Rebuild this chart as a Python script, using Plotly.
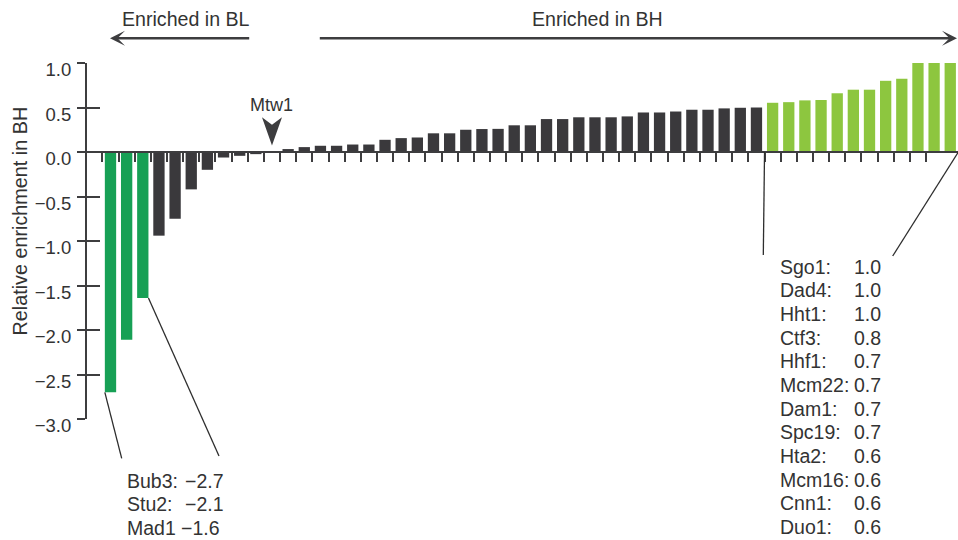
import plotly.graph_objects as go

# ---------------- data ----------------
values = [-2.70, -2.11, -1.64, -0.94, -0.75, -0.42, -0.20, -0.062, -0.043, -0.024,
          0.0, 0.033, 0.055, 0.07, 0.07, 0.084, 0.084, 0.137, 0.156, 0.163,
          0.21, 0.21, 0.25, 0.258, 0.26, 0.30, 0.30, 0.37, 0.37, 0.39,
          0.39, 0.39, 0.40, 0.444, 0.444, 0.455, 0.475, 0.475, 0.49, 0.497,
          0.50, 0.553, 0.56, 0.58, 0.584, 0.66, 0.70, 0.70, 0.80, 0.823,
          1.0, 1.0, 1.0]
n_bl = 3      # bars enriched in BL (highlighted)
n_bh = 12     # bars highlighted on the BH side
mtw1_index = 10

left_names = ["Bub3:", "Stu2:", "Mad1"]
left_scores = [-2.7, -2.1, -1.6]
right_names = ["Sgo1:", "Dad4:", "Hht1:", "Ctf3:", "Hhf1:", "Mcm22:", "Dam1:",
               "Spc19:", "Hta2:", "Mcm16:", "Cnn1:", "Duo1:"]
right_scores = [1.0, 1.0, 1.0, 0.8, 0.7, 0.7, 0.7, 0.7, 0.6, 0.6, 0.6, 0.6]
y_ticks = [-3.0, -2.5, -2.0, -1.5, -1.0, -0.5, 0.0, 0.5, 1.0]

# ---------------- styling ----------------
FONT = "Liberation Sans, Arial, Helvetica, sans-serif"
TXT = "#333333"
AX = "#3d3d3f"
C_BL = "#17a055"
C_MID = "#3a393c"
C_BH = "#8dc63f"

W, H = 958, 540
ML, MR, MT, MB = 87, 0, 63, 121
PW, PH = W - ML - MR, H - MT - MB
XR = [-1.455, 52.48]
YR = [-3.0, 1.0]

def xd(x):  # data x -> paper
    return (x - XR[0]) / (XR[1] - XR[0])

def yd(y):  # data y -> paper
    return (y - YR[0]) / (YR[1] - YR[0])

def xp(px):  # pixel -> paper
    return (px - ML) / PW

def yp(py):
    return (H - MB - py) / PH

n = len(values)
idx = list(range(n))
colors = [C_BL if i < n_bl else (C_BH if i >= n - n_bh else C_MID) for i in idx]

fig = go.Figure()
fig.add_trace(go.Bar(x=idx, y=values, marker=dict(color=colors, line=dict(width=0)),
                     width=0.70, hoverinfo="skip", showlegend=False))
# invisible trace carrying the inner-tick axis
fig.add_trace(go.Scatter(x=idx, y=values, yaxis="y2", mode="markers",
                         marker=dict(opacity=0), hoverinfo="skip", showlegend=False))

shapes = []
annotations = []

def txt(x, y, text, size, xanchor="center", xref="paper", angle=0):
    annotations.append(dict(x=x, y=y, xref=xref, yref="paper", text=text, showarrow=False,
                            xanchor=xanchor, yanchor="middle", textangle=angle,
                            font=dict(size=size, color=TXT, family=FONT)))

# Mtw1 arrowhead
hw = 0.62
shapes.append(dict(type="path", xref="x", yref="y",
                   path=f"M {mtw1_index-hw},0.39 L {mtw1_index},0.305 L {mtw1_index+hw},0.39 L {mtw1_index},0.073 Z",
                   fillcolor=AX, line=dict(width=0)))
txt(mtw1_index, yp(104.7), "Mtw1", 18, xref="x")

# leader lines (left)
line_style = dict(color="#2e2e2e", width=1.3)
shapes.append(dict(type="line", xref="paper", yref="paper",
                   x0=xd(0 - 0.35), y0=yd(values[0]), x1=xp(121.7), y1=yp(458.3), line=line_style))
shapes.append(dict(type="line", xref="paper", yref="paper",
                   x0=xd(n_bl - 1 + 0.35), y0=yd(values[n_bl - 1]), x1=xp(219), y1=yp(456), line=line_style))
# leader lines (right)
shapes.append(dict(type="line", xref="paper", yref="paper",
                   x0=xd(n - n_bh - 0.5), y0=yd(0), x1=xp(763.3), y1=yp(255), line=line_style))
shapes.append(dict(type="line", xref="paper", yref="paper",
                   x0=xd(n - 0.5), y0=yd(0), x1=xp(892.7), y1=yp(256), line=line_style))

LAB = 19.5
for k, (nm, sc) in enumerate(zip(left_names, left_scores)):
    yy = yp(480.7 + 23.7 * k)
    txt(xp(125), yy, nm, LAB, xanchor="left")
    txt(xp(182.7 if nm.endswith(":") else 179.3), yy, f"{sc:.1f}".replace("-", "\u2212"), LAB, xanchor="left")
for k, (nm, sc) in enumerate(zip(right_names, right_scores)):
    yy = yp(266.7 + 23.66 * k)
    txt(xp(777.7), yy, nm, LAB, xanchor="left")
    txt(xp(852), yy, f"{sc:.1f}", LAB, xanchor="left")

# top direction arrows
txt(xp(186), yp(19), "Enriched in BL", 19.6)
txt(xp(597.3), yp(19), "Enriched in BH", 19.6)
annotations.append(dict(x=xp(110), y=yp(38.3), xref="paper", yref="paper", text="",
                        showarrow=True, ax=140.7, ay=0, arrowhead=3, arrowsize=1,
                        arrowwidth=2.5, arrowcolor=AX, standoff=0))
annotations.append(dict(x=xp(957), y=yp(38.3), xref="paper", yref="paper", text="",
                        showarrow=True, ax=318.3 - 957, ay=0, arrowhead=3, arrowsize=1,
                        arrowwidth=2.5, arrowcolor=AX, standoff=0))

# y-axis title
txt(xp(19), yp(221.5), "Relative enrichment in BH", 19.8, angle=-90)

fig.update_layout(
    width=W, height=H,
    margin=dict(l=ML, r=MR, t=MT, b=MB, pad=0),
    paper_bgcolor="white", plot_bgcolor="white",
    showlegend=False,
    font=dict(family=FONT, color=TXT),
    xaxis=dict(range=XR, anchor="free", position=yd(0), showline=True, linewidth=2, linecolor=AX,
               ticks="outside", ticklen=9, tickwidth=2, tickcolor=AX,
               tickvals=[i - 0.5 for i in range(n - 1)], showticklabels=False,
               showgrid=False, zeroline=False, automargin=False, fixedrange=True),
    yaxis=dict(range=YR, tickvals=y_ticks, tickformat=".1f", showline=True, linewidth=2,
               linecolor=AX, ticks="outside", ticklen=8, tickwidth=2, tickcolor=AX,
               tickfont=dict(size=18.5, color=TXT, family=FONT), ticklabelshift=7,
               ticklabelstandoff=2,
               showgrid=False, zeroline=False, automargin=False, fixedrange=True),
    yaxis2=dict(range=YR, overlaying="y", anchor="x", side="left", tickvals=y_ticks,
                ticks="inside", ticklen=13, tickwidth=2, tickcolor=AX, showticklabels=False,
                showline=False, showgrid=False, zeroline=False, automargin=False, fixedrange=True),
    shapes=shapes,
    annotations=annotations,
)

fig.write_html("out.html", config={"displayModeBar": False},
               post_script="document.body.style.margin='0';document.body.style.overflow='hidden';")
